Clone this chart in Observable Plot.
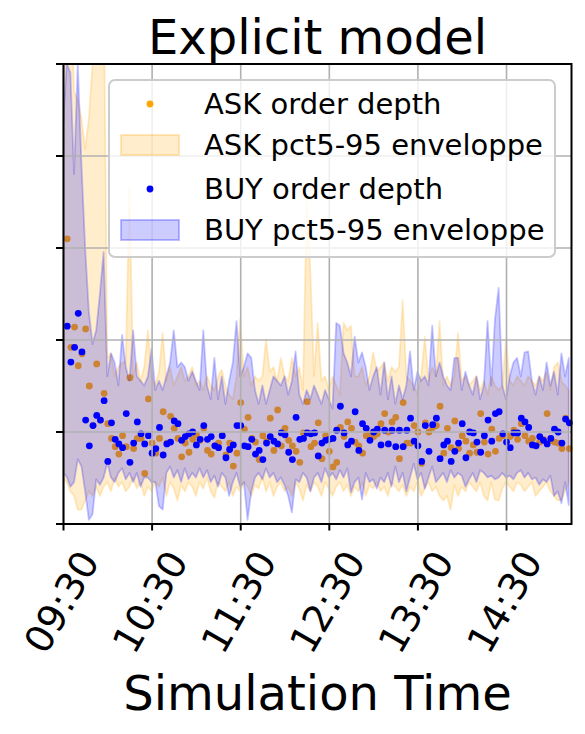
<!DOCTYPE html>
<html><head><meta charset="utf-8">
<script src="https://cdn.jsdelivr.net/npm/d3@7"></script>
<script src="https://cdn.jsdelivr.net/npm/@observablehq/plot@0.6"></script>
<style>body{margin:0;background:#fff;}</style>
</head><body><div id="chart"></div>
<script>
const title = "Explicit model";
const xLabel = "Simulation Time";
const xTickLabels = ["09:30", "10:30", "11:30", "12:30", "13:30", "14:30"];
const startTime = "09:30";
const endTime = "15:14";
const stepMinutes = 2.5;
const seriesNames = ["ASK order depth", "ASK pct5-95 enveloppe", "BUY order depth", "BUY pct5-95 enveloppe"];

const askDepth = [
  null, 3.10, 1.92, 2.14, 1.72, 1.85, 2.12, 1.50, 1.07, 1.74,
  1.13, 1.42, 1.09, 0.93, 0.84, 0.76, 0.96, 0.84, 1.59, 0.82,
  0.93, 0.93, 0.55, 1.36, 0.88, 0.77, 0.93, 1.22, 0.88, 1.17,
  1.04, 0.93, 0.73, 0.88, 0.78, 0.92, 0.97, 0.91, 1.04, 0.80,
  0.76, 0.85, 0.88, 0.96, 0.75, 0.88, 0.63, 0.77, 1.32, 1.03,
  1.16, 0.93, 0.89, 0.70, 0.96, 0.90, 1.15, 0.80, 1.24, 0.85,
  1.04, 0.91, 0.85, 0.79, 0.67, 0.99, 1.33, 0.84, 0.88, 1.10,
  0.71, 0.96, 0.79, 0.62, 0.67, 1.05, 0.95, 1.11, 1.04, 0.89,
  0.85, 0.77, 0.96, 0.98, 0.95, 0.98, 1.09, 1.20, 1.00, 1.11,
  1.16, 0.71, 1.32, 0.88, 0.88, 1.07, 1.00, 0.66, 1.10, 1.00,
  1.05, 1.07, 1.28, 0.77, 1.04, 0.83, 1.12, 0.82, 0.96, 0.90,
  0.77, 0.86, 0.78, 1.20, 0.89, 0.76, 1.03, 0.79, 0.93, 0.96,
  0.97, 0.95, 1.02, 0.92, 1.09, 0.96, 0.90, 0.93, 0.85, 0.89,
  0.92, 1.20, 0.91, 0.89, 0.88, 0.82, 1.15, 0.82
];
const buyDepth = [
  null, 2.15, 1.76, 1.92, 2.29, 1.87, 1.13, 0.85, 1.07, 1.18,
  1.13, 1.34, 0.68, 1.10, 0.92, 0.87, 0.83, 1.20, 0.67, 0.88,
  1.11, 0.98, 0.87, 0.96, 0.77, 0.82, 1.05, 0.75, 0.87, 0.89,
  1.12, 1.09, 0.91, 0.95, 0.98, 1.00, 0.86, 0.92, 1.07, 0.92,
  0.95, 0.85, 0.83, 0.96, 0.72, 0.81, 0.86, 1.07, 1.07, 0.85,
  0.84, 0.92, 0.76, 0.80, 0.70, 0.88, 0.95, 0.90, 0.87, 0.99,
  0.97, 0.78, 0.70, 1.16, 0.92, 0.93, 0.99, 0.98, 0.99, 0.74,
  0.88, 0.91, 0.92, 0.93, 1.02, 1.28, 0.99, 0.86, 0.90, 1.22,
  0.80, 1.09, 1.04, 0.91, 1.00, 1.03, 0.86, 1.02, 0.87, 1.02,
  0.84, 1.02, 0.84, 1.02, 1.15, 0.90, 0.85, 0.68, 1.07, 0.79,
  1.08, 1.15, 0.71, 0.86, 0.90, 0.68, 0.79, 0.88, 1.09, 0.72,
  1.00, 0.99, 0.89, 0.78, 0.96, 1.13, 0.90, 1.20, 1.22, 0.98,
  0.89, 0.83, 0.99, 0.99, 1.15, 1.11, 1.05, 0.86, 0.85, 0.95,
  0.91, 0.87, 0.93, 1.03, 1.00, 0.88, 1.14, 1.10
];
const askP95 = [
  6, 6, 6, 4.7, 4.6, 4.4, 4.07, 4.4, 5.0, 6,
  6, 6, 1.8, 1.85, 1.6, 1.7, 1.75, 1.75, 3.66, 1.6,
  1.75, 1.55, 1.7, 2.1, 1.6, 1.5, 1.65, 2.07, 1.55, 1.7,
  1.5, 1.6, 1.7, 1.55, 1.6, 1.7, 1.5, 1.55, 1.45, 1.6,
  1.5, 1.45, 1.6, 1.67, 1.5, 1.4, 1.35, 1.6, 2.22, 1.6,
  1.7, 1.5, 1.6, 1.55, 1.6, 2.0, 1.65, 1.7, 1.55, 1.8,
  1.6, 1.55, 1.8, 1.6, 1.7, 1.45, 3.5, 2.75, 1.6, 2.18,
  1.55, 1.6, 1.45, 1.6, 1.5, 1.4, 2.18, 2.1, 2.15, 1.6,
  1.6, 1.7, 1.5, 1.6, 1.86, 1.65, 1.7, 1.75, 1.55, 1.7,
  1.65, 1.7, 2.43, 1.6, 1.55, 1.5, 1.4, 1.6, 2.03, 1.55,
  1.7, 1.6, 2.2, 1.5, 1.6, 1.5, 1.6, 2.07, 1.55, 1.6,
  1.5, 1.55, 1.6, 1.45, 1.55, 1.4, 1.6, 1.5, 1.45, 1.5,
  2.0, 1.55, 1.5, 1.6, 1.55, 1.5, 1.6, 1.55, 1.5, 1.6,
  1.55, 1.65, 1.45, 1.7, 1.75, 1.55, 1.5, 1.45
];
const askP5 = [
  0.5, 0.45, 0.35, 0.3, 0.15, 0.15, 0.25, 0.35, 0.3, 0.4,
  0.3, 0.4, 0.45, 0.35, 0.5, 0.4, 0.45, 0.35, 0.4, 0.5,
  0.38, 0.45, 0.3, 0.4, 0.35, 0.45, 0.4, 0.5, 0.3, 0.45,
  0.38, 0.25, 0.42, 0.35, 0.45, 0.4, 0.3, 0.45, 0.38, 0.5,
  0.35, 0.28, 0.45, 0.4, 0.35, 0.45, 0.3, 0.4, 0.35, 0.45,
  0.4, 0.3, 0.42, 0.38, 0.5, 0.35, 0.45, 0.3, 0.4, 0.45,
  0.35, 0.4, 0.3, 0.45, 0.38, 0.25, 0.42, 0.35, 0.45, 0.4,
  0.3, 0.45, 0.38, 0.3, 0.4, 0.45, 0.35, 0.42, 0.3, 0.4,
  0.35, 0.45, 0.3, 0.42, 0.38, 0.45, 0.35, 0.4, 0.3, 0.45,
  0.4, 0.35, 0.42, 0.3, 0.4, 0.35, 0.45, 0.3, 0.38, 0.45,
  0.35, 0.4, 0.3, 0.25, 0.3, 0.15, 0.42, 0.3, 0.4, 0.35,
  0.45, 0.4, 0.35, 0.45, 0.3, 0.25, 0.45, 0.26, 0.25, 0.38,
  0.45, 0.4, 0.35, 0.45, 0.42, 0.35, 0.4, 0.45, 0.3, 0.35,
  0.4, 0.45, 0.35, 0.3, 0.25, 0.26, 0.35, 0.45
];
const buyP95 = [
  4.3, 5.0, 4.9, 3.8, 5.0, 3.9, 3.0, 2.3, 1.95, 2.1,
  2.5, 2.95, 1.6, 1.85, 1.75, 1.5, 2.05, 1.7, 1.55, 2.1,
  1.6, 1.55, 1.5, 1.6, 1.9, 1.45, 1.55, 1.45, 1.6, 1.75,
  2.1, 1.7, 1.75, 1.7, 1.55, 1.65, 1.55, 1.45, 2.1, 1.5,
  1.35, 1.8, 1.35, 1.6, 1.3, 1.55, 1.75, 2.2, 1.6, 1.7,
  1.85, 1.8, 1.45, 1.3, 1.5, 1.3, 1.45, 1.6, 1.55, 1.5,
  1.6, 1.4, 1.55, 1.87, 1.4, 1.3, 1.45, 1.35, 1.5, 1.4,
  1.3, 1.45, 1.35, 1.25, 2.18, 2.15, 1.85, 1.75, 1.6, 2.03,
  1.75, 1.86, 1.7, 1.45, 1.6, 1.7, 1.4, 1.75, 1.35, 1.6,
  1.3, 1.5, 1.35, 1.5, 1.87, 1.45, 1.65, 1.55, 1.6, 1.5,
  2.15, 1.6, 1.75, 1.6, 1.5, 1.45, 1.8, 1.8, 1.45, 1.65,
  1.5, 1.4, 1.6, 1.35, 1.5, 2.2, 1.5, 2.22, 2.56, 1.5,
  1.35, 1.6, 1.75, 1.8, 1.6, 1.86, 1.87, 1.55, 1.4, 1.6,
  1.45, 1.75, 1.5, 1.65, 1.4, 1.85, 1.6, 1.8
];
const buyP5 = [
  0.55, 0.51, 0.40, 0.45, 0.70, 0.62, 0.35, 0.04, 0.10, 0.48,
  0.42, 0.50, 0.66, 0.50, 0.45, 0.55, 0.60, 0.48, 0.55, 0.45,
  0.55, 0.40, 0.50, 0.50, 0.45, 0.45, 0.19, 0.15, 0.55, 0.62,
  0.50, 0.58, 0.45, 0.60, 0.48, 0.55, 0.50, 0.60, 0.50, 0.58,
  0.45, 0.52, 0.40, 0.55, 0.50, 0.30, 0.45, 0.55, 0.40, 0.45,
  0.04, 0.35, 0.50, 0.55, 0.48, 0.60, 0.50, 0.55, 0.45, 0.50,
  0.42, 0.30, 0.12, 0.48, 0.45, 0.55, 0.50, 0.35, 0.50, 0.55,
  0.45, 0.60, 0.50, 0.55, 0.48, 0.58, 0.50, 0.60, 0.34, 0.45,
  0.50, 0.26, 0.55, 0.45, 0.48, 0.38, 0.50, 0.45, 0.55, 0.40,
  0.62, 0.45, 0.55, 0.35, 0.50, 0.65, 0.48, 0.55, 0.38, 0.50,
  0.62, 0.45, 0.50, 0.55, 0.45, 0.58, 0.50, 0.55, 0.52, 0.40,
  0.48, 0.55, 0.45, 0.58, 0.55, 0.50, 0.52, 0.48, 0.50, 0.55,
  0.50, 0.52, 0.48, 0.55, 0.58, 0.50, 0.55, 0.48, 0.50, 0.42,
  0.48, 0.45, 0.52, 0.30, 0.35, 0.22, 0.45, 0.20
];

const day = (hm) => { const [h, m] = hm.split(":").map(Number); return new Date(2024, 0, 2, h, m); };
const t0 = day(startTime);
const times = askDepth.map((_, i) => new Date(+t0 + i * stepMinutes * 60000));
const rows = times.map((t, i) => ({
  t, ask: askDepth[i], buy: buyDepth[i],
  askLo: askP5[i], askHi: askP95[i], buyLo: buyP5[i], buyHi: buyP95[i]
}));
const xTicks = xTickLabels.map(day);
const fmt = d3.timeFormat("%H:%M");
const font = "DejaVu Sans, Liberation Sans, sans-serif";

const chart = Plot.plot({
  width: 585, height: 734,
  marginLeft: 63, marginRight: 14, marginTop: 63.5, marginBottom: 210.5,
  style: {fontFamily: font, background: "#fff", color: "#000"},
  x: {type: "time", domain: [t0, day(endTime)], label: null},
  y: {domain: [0, 5], label: null},
  marks: [
    Plot.dot(rows, {x: "t", y: "ask", r: 3.4, fill: "orange"}),
    Plot.areaY(rows, {x: "t", y1: "askLo", y2: "askHi", fill: "orange", fillOpacity: 0.2,
      stroke: "orange", strokeOpacity: 0.22, strokeWidth: 1.8, clip: true}),
    Plot.dot(rows, {x: "t", y: "buy", r: 3.4, fill: "blue"}),
    Plot.areaY(rows, {x: "t", y1: "buyLo", y2: "buyHi", fill: "blue", fillOpacity: 0.2,
      stroke: "blue", strokeOpacity: 0.22, strokeWidth: 1.8, clip: true}),
    Plot.gridX({ticks: xTicks, stroke: "#b0b0b0", strokeOpacity: 1, strokeWidth: 1.6}),
    Plot.gridY({ticks: [1, 2, 3, 4], stroke: "#b0b0b0", strokeOpacity: 1, strokeWidth: 1.6}),
    Plot.frame({stroke: "#000", strokeWidth: 2}),
    Plot.axisX({ticks: xTicks, tickSize: 7, strokeWidth: 2, tickFormat: () => "", label: null}),
    Plot.axisY({ticks: [0, 1, 2, 3, 4, 5], tickSize: 7, strokeWidth: 2, tickFormat: () => "", label: null}),
    Plot.text(xTicks, {x: d => d, text: d => fmt(d), frameAnchor: "bottom", dx: -1, dy: 78.5, rotate: -60,
      fontSize: 38, textAnchor: "middle", lineAnchor: "middle", fill: "#000"}),
    Plot.text([title], {frameAnchor: "top", dy: -25.5, fontSize: 48, lineAnchor: "middle", fill: "#000"}),
    Plot.text([xLabel], {frameAnchor: "bottom", dy: 170.5, fontSize: 48, lineAnchor: "middle", fill: "#000"})
  ]
});

// Legend (inside the axes, upper right)
const svg = d3.select(chart);
const lg = svg.append("g").attr("font-family", font).attr("font-size", 29)
  .attr("fill", "#000").attr("text-anchor", "start");
lg.append("rect").attr("x", 109).attr("y", 80).attr("width", 446).attr("height", 177).attr("rx", 6)
  .attr("fill", "#fff").attr("fill-opacity", 0.8).attr("stroke", "#cccccc").attr("stroke-width", 2);
const legendItems = [
  {name: seriesNames[0], kind: "dot", color: "orange", cy: 104},
  {name: seriesNames[1], kind: "patch", color: "orange", cy: 145},
  {name: seriesNames[2], kind: "dot", color: "blue", cy: 189},
  {name: seriesNames[3], kind: "patch", color: "blue", cy: 230}
];
legendItems.forEach(it => {
  if (it.kind === "dot") {
    lg.append("circle").attr("cx", 150).attr("cy", it.cy).attr("r", 3.4).attr("fill", it.color);
  } else {
    lg.append("rect").attr("x", 121).attr("y", it.cy - 10).attr("width", 58).attr("height", 20)
      .attr("fill", it.color).attr("fill-opacity", 0.2)
      .attr("stroke", it.color).attr("stroke-opacity", 0.25).attr("stroke-width", 2);
  }
  lg.append("text").attr("x", 204).attr("y", it.cy).attr("dy", "0.36em")
    .attr("text-anchor", "start").text(it.name);
});

document.getElementById("chart").appendChild(chart);
</script>
</body></html>
